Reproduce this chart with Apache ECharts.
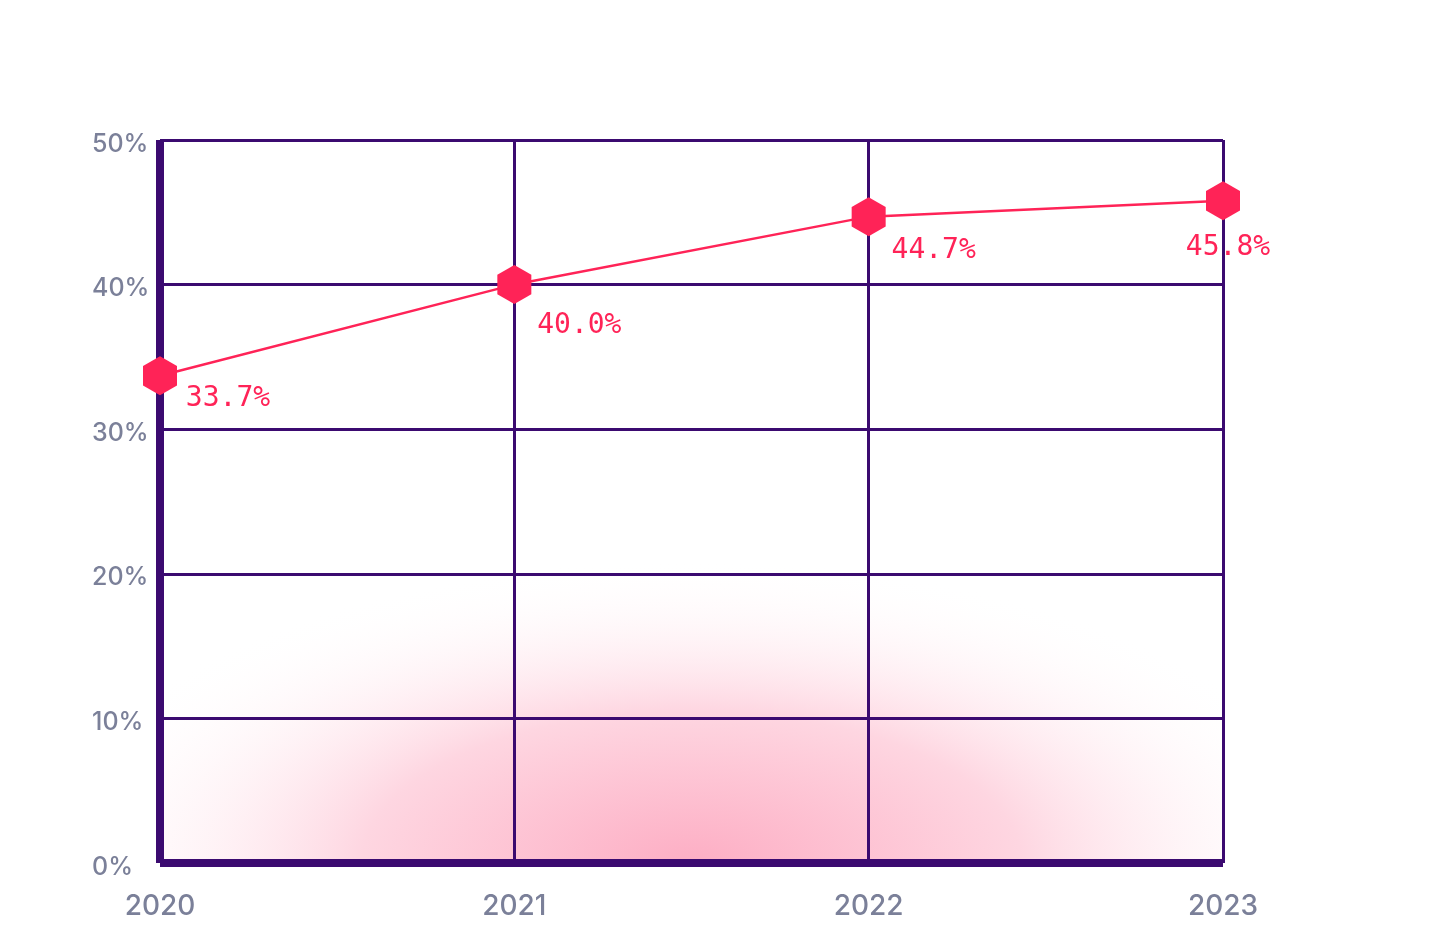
<!DOCTYPE html>
<html>
<head>
<meta charset="utf-8">
<script src="https://cdn.jsdelivr.net/npm/echarts@6/dist/echarts.min.js"></script>
<style>
  html, body { margin: 0; padding: 0; background: #fff; }
  #main { width: 1440px; height: 936px; }
</style>
</head>
<body>
<div id="main"></div>
<script>
// data
const years = ['2020', '2021', '2022', '2023'];
const shares = [33.7, 40.0, 44.7, 45.8];
// where each value label sits, relative to its marker
const labelOffsets = [[68, 23], [65, 41], [65, 34], [5, 47]];

const purple = '#3b0a70';
const red = '#ff2357';
const grey = '#7b8099';

// grid box in px
const gLeft = 160, gTop = 140, gRight = 217, gBottom = 73;
const gW = 1440 - gLeft - gRight;
const gH = 936 - gTop - gBottom;
const squash = 0.46;

const myChart = echarts.init(document.getElementById('main'));

const option = {
  backgroundColor: '#fff',
  animation: false,
  grid: {
    left: gLeft,
    right: gRight,
    top: gTop,
    bottom: gBottom
  },
  // soft pink glow at the bottom of the plot
  graphic: [
    {
      type: 'rect',
      silent: true,
      z: -10,
      x: gLeft,
      y: gTop,
      scaleY: squash,
      shape: { x: 0, y: 0, width: gW, height: gH / squash },
      style: {
        fill: new echarts.graphic.RadialGradient(0.5, 1, 0.62, [
          { offset: 0, color: '#fdaec4' },
          { offset: 0.5, color: '#fed6e1' },
          { offset: 1, color: 'rgba(255,255,255,0)' }
        ])
      }
    }
  ],
  xAxis: {
    type: 'category',
    data: years,
    boundaryGap: false,
    axisTick: { show: false },
    axisLine: { show: true, lineStyle: { color: purple, width: 8, cap: 'butt' } },
    splitLine: { show: true, lineStyle: { color: purple, width: 3 } },
    axisLabel: {
      color: grey,
      fontSize: 28,
      fontWeight: 500,
      fontFamily: 'Inter',
      margin: 30
    }
  },
  yAxis: {
    type: 'value',
    min: 0,
    max: 50,
    interval: 10,
    axisTick: { show: false },
    axisLine: { show: true, lineStyle: { color: purple, width: 8, cap: 'butt' } },
    splitLine: { show: true, lineStyle: { color: purple, width: 3 } },
    axisLabel: {
      align: 'left',
      margin: 68,
      formatter: '{t|{value}%}',
      rich: {
        t: {
          color: grey,
          fontSize: 25,
          fontWeight: 500,
          fontFamily: 'Inter',
          padding: [8, 0, 0, 0]
        }
      }
    }
  },
  series: [
    {
      type: 'line',
      z: 5,
      data: shares.map((v, i) => ({
        value: v,
        label: { offset: labelOffsets[i] }
      })),
      symbol: 'path://M0,-1 L0.866,-0.5 L0.866,0.5 L0,1 L-0.866,0.5 L-0.866,-0.5 Z',
      symbolSize: [34, 39],
      itemStyle: { color: red },
      lineStyle: { color: red, width: 2.5 },
      label: {
        show: true,
        position: 'inside',
        color: red,
        fontSize: 28,
        fontFamily: 'DejaVu Sans Mono',
        formatter: function(p) {
          return p.value.toFixed(1) + '%';
        }
      }
    }
  ]
};
myChart.setOption(option);
</script>
</body>
</html>
